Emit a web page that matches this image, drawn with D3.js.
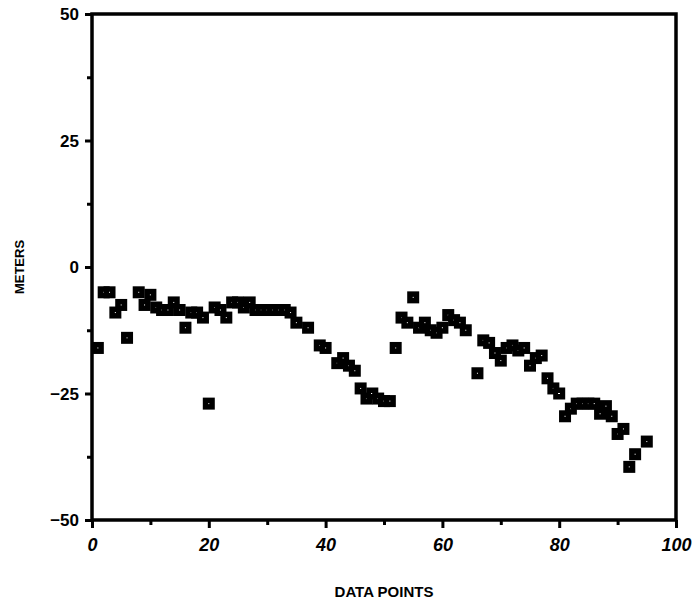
<!DOCTYPE html>
<html>
<head>
<meta charset="utf-8">
<script src="https://cdn.jsdelivr.net/npm/d3@7"></script>
<style>
  body { margin: 0; background: #fff; }
  text { font-family: "Liberation Sans", Arial, sans-serif; font-weight: bold; fill: #000; }
</style>
</head>
<body>
<svg class="canvas" width="692" height="602"></svg>
<script>
// data point index and measured offset in meters
const pointIndex = [
  1, 2, 3, 4, 5, 6, 8, 9, 10, 11, 12, 13, 14, 15, 16, 17, 18, 19, 20,
  21, 22, 23, 24, 25, 26, 27, 28, 29, 30, 31, 32, 33, 34, 35, 37, 39, 40,
  42, 43, 44, 45, 46, 47, 48, 49, 50, 51, 52, 53, 54, 55, 56, 57, 58, 59, 60,
  61, 62, 63, 64, 66, 67, 68, 69, 70, 71, 72, 73, 74, 75, 76, 77, 78, 79, 80,
  81, 82, 83, 84, 85, 86, 87, 88, 89, 90, 91, 92, 93, 95
];
const meters = [
  -16, -5, -5, -9, -7.5, -14, -5, -7.5, -5.5, -8, -8.5, -8.5, -7, -8.5, -12, -9, -9, -10, -27,
  -8, -8.5, -10, -7, -7, -8, -7, -8.5, -8.5, -8.5, -8.5, -8.5, -8.5, -9, -11, -12, -15.5, -16,
  -19, -18, -19.5, -20.5, -24, -26, -25, -26, -26.5, -26.5, -16, -10, -11, -6, -12, -11, -12.5, -13, -12,
  -9.5, -10.5, -11, -12.5, -21, -14.5, -15, -17, -18.5, -16, -15.5, -16.5, -16, -19.5, -18, -17.5, -22, -24, -25,
  -29.5, -28, -27, -27, -27, -27, -29, -27.5, -29.5, -33, -32, -39.5, -37, -34.5
];
const xTicks = [0, 20, 40, 60, 80, 100];
const yTicks = [-50, -25, 0, 25, 50];

const margin = { top: 14, right: 16, bottom: 82, left: 92 };
const width = 692, height = 602;
const graphWidth = width - margin.left - margin.right;
const graphHeight = height - margin.top - margin.bottom;

const canvas = d3.select(".canvas");
const graph = canvas.append("g")
  .attr("transform", `translate(${margin.left}, ${margin.top})`);

const x = d3.scaleLinear().domain([0, 100]).range([0, graphWidth]);
const y = d3.scaleLinear().domain([-50, 50]).range([graphHeight, 0]);

// minor ticks
const xAxisMinor = d3.axisBottom(x).tickValues(d3.range(10, 100, 20)).tickSize(5).tickFormat("");
const yAxisMinor = d3.axisLeft(y).tickValues([-37.5, -12.5, 12.5, 37.5]).tickSize(5).tickFormat("");
graph.append("g").attr("transform", `translate(0, ${graphHeight})`).call(xAxisMinor);
graph.append("g").call(yAxisMinor);

const xAxis = d3.axisBottom(x).tickValues(xTicks).tickSize(8).tickPadding(10);
const yAxis = d3.axisLeft(y).tickValues(yTicks).tickSize(7).tickPadding(6);

const xAxisGroup = graph.append("g")
  .attr("transform", `translate(0, ${graphHeight})`)
  .call(xAxis);
const yAxisGroup = graph.append("g").call(yAxis);

graph.selectAll(".domain").remove();
graph.selectAll(".tick line").attr("stroke", "#000").attr("stroke-width", 3);
xAxisGroup.selectAll("text").style("font-size", "18px").style("font-style", "italic");
yAxisGroup.selectAll("text").style("font-size", "17px").attr("dy", "0.35em");

// frame
graph.append("rect")
  .attr("x", 0).attr("y", 0)
  .attr("width", graphWidth).attr("height", graphHeight)
  .attr("fill", "none")
  .attr("stroke", "#000")
  .attr("stroke-width", 3.5);

// points
const pts = pointIndex.map((d, i) => [d, meters[i]]);
const s = 6.5;
graph.selectAll("rect.pt")
  .data(pts)
  .enter()
  .append("rect")
  .attr("class", "pt")
  .attr("x", d => x(d[0]) - s / 2)
  .attr("y", d => y(d[1]) - s / 2)
  .attr("width", s)
  .attr("height", s)
  .attr("fill", "#fff")
  .attr("stroke", "#000")
  .attr("stroke-width", 5.5);

// axis titles
canvas.append("text")
  .attr("x", margin.left + graphWidth / 2)
  .attr("y", 597)
  .attr("text-anchor", "middle")
  .style("font-size", "15px")
  .text("DATA POINTS");

canvas.append("text")
  .attr("transform", `translate(24, ${margin.top + y(0)}) rotate(-90)`)
  .attr("text-anchor", "middle")
  .style("font-size", "13px")
  .text("METERS");
</script>
</body>
</html>
